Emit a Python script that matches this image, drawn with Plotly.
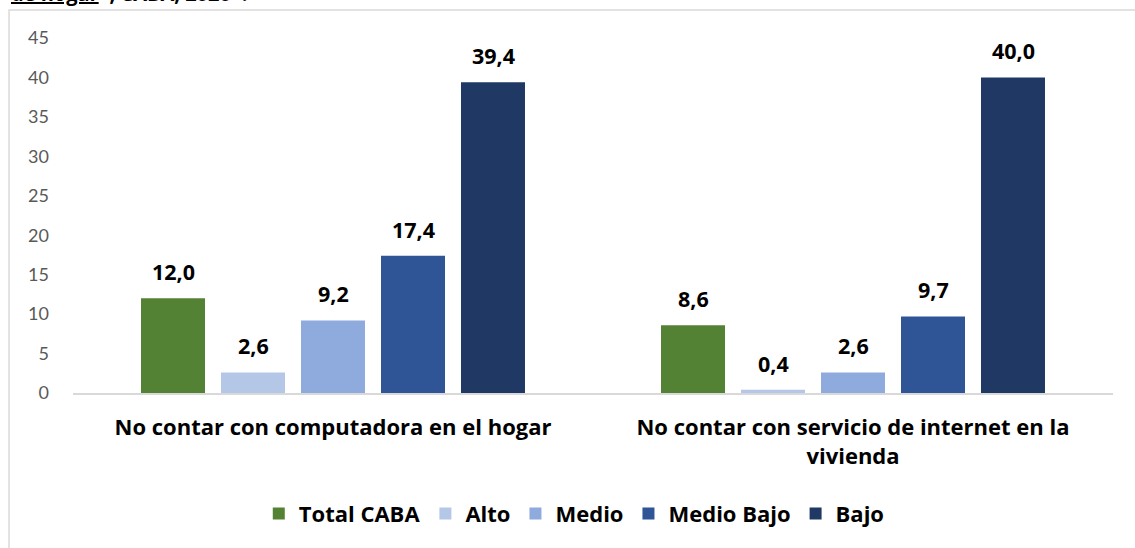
import plotly.graph_objects as go

categories = ["No contar con computadora en el hogar",
              "No contar con servicio de internet en la<br>vivienda"]
series_names = ["Total CABA", "Alto", "Medio", "Medio Bajo", "Bajo"]
total_caba = [12.0, 8.6]
alto = [2.6, 0.4]
medio = [9.2, 2.6]
medio_bajo = [17.4, 9.7]
bajo = [39.4, 40.0]
y_ticks = [0, 5, 10, 15, 20, 25, 30, 35, 40, 45]

series_values = [total_caba, alto, medio, medio_bajo, bajo]
colors = ["#548235", "#B4C7E7", "#8FAADC", "#2F5597", "#203864"]

FONT = "Open Sans"
BAR_PITCH = 80  # px between adjacent bars within a group
fig = go.Figure()
annotations = []
n = len(series_names)
for i, (name, vals, col) in enumerate(zip(series_names, series_values, colors)):
    fig.add_trace(go.Bar(
        x=categories, y=vals, name=f"<b>{name}</b>", marker_color=col, marker_line_width=0,
    ))
    for cat, v in zip(categories, vals):
        annotations.append(dict(
            x=cat, y=v, xref="x", yref="y", xshift=(i - (n - 1) / 2) * BAR_PITCH,
            yshift=10, yanchor="bottom", showarrow=False,
            text="<b>" + f"{v:.1f}".replace(".", ",") + "</b>",
            font=dict(family=FONT, size=21.5, color="black")))

annotations.append(dict(text="<b><u>de hogar</u>*, CABA, 2020*.</b>", xref="paper", yref="paper",
                        x=-0.062, y=1.082, xanchor="left", yanchor="bottom", showarrow=False,
                        font=dict(family=FONT, size=20, color="black")))

fig.update_layout(
    width=1135, height=548,
    margin=dict(l=73, r=22, t=38, b=155),
    paper_bgcolor="white", plot_bgcolor="white",
    separators=",.",
    barmode="group", bargap=0.2308, bargroupgap=0.2,
    font=dict(family=FONT),
    legend=dict(orientation="h", x=0.482, xanchor="center", y=-0.34, yanchor="middle",
                font=dict(family=FONT, size=22, color="black"),
                itemwidth=30, traceorder="normal"),
    yaxis=dict(range=[0, 45], tickvals=y_ticks, showgrid=False, zeroline=False,
               showline=False, ticks="", ticklabelstandoff=23,
               tickfont=dict(family="Lato", size=18, color="#595959")),
    xaxis=dict(showline=True, linecolor="#d9d9d9", linewidth=1.5, ticks="",
               tickvals=categories, ticktext=[f"<b>{c}</b>" for c in categories],
               ticklabelstandoff=14,
               tickfont=dict(family=FONT, size=22, color="black")),
    shapes=[dict(type="rect", xref="paper", yref="paper", x0=-0.0615, x1=1.2,
                 y0=-1, y1=1.0789, line=dict(color="#d9d9d9", width=1.5),
                 fillcolor="rgba(0,0,0,0)", layer="below")],
    annotations=annotations,
)

fig.write_html("out.html", config={"displayModeBar": False},
               post_script="document.body.style.margin='0';")
